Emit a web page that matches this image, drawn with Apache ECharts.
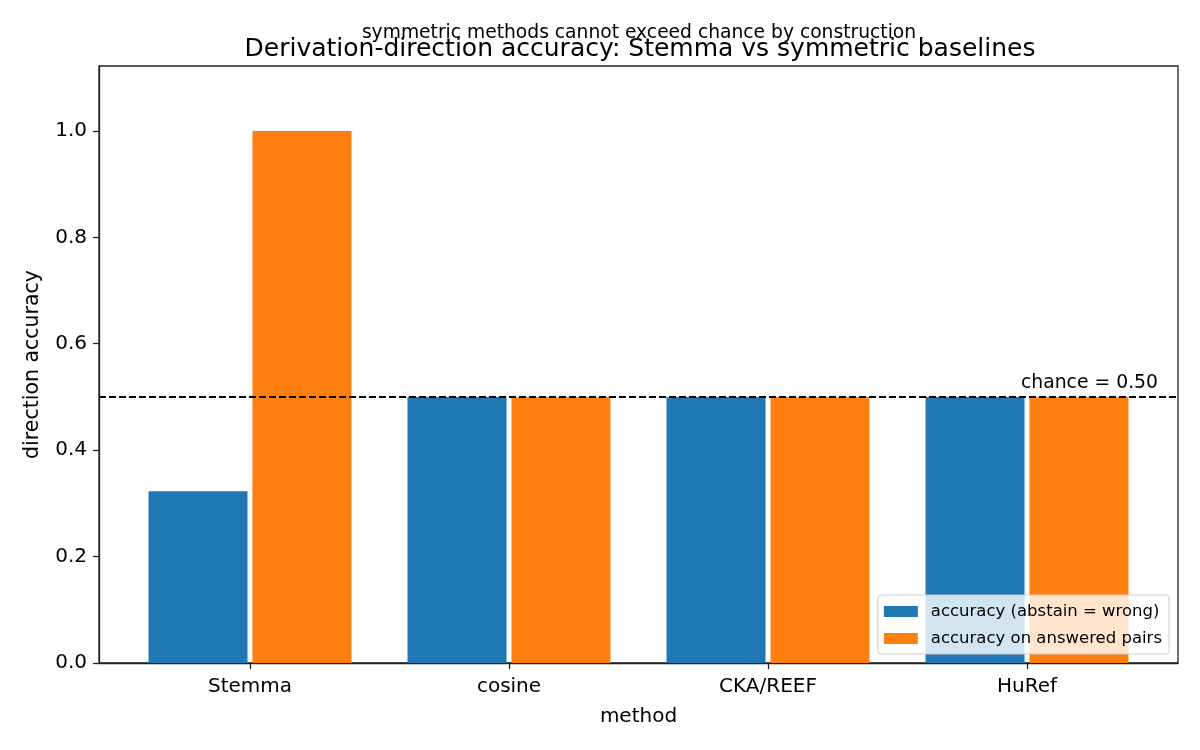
<!DOCTYPE html>
<html>
<head>
<meta charset="utf-8">
<title>Derivation-direction accuracy</title>
<script src="https://cdn.jsdelivr.net/npm/echarts@6.0.0/dist/echarts.min.js"></script>
<style>
  html, body { margin: 0; padding: 0; background: #fff; }
  #chart { width: 1200px; height: 750px; }
</style>
</head>
<body>
<div id="chart"></div>
<script>
// data
var methods = ['Stemma', 'cosine', 'CKA/REEF', 'HuRef'];
var accAbstainWrong = [0.323, 0.5, 0.5, 0.5];
var accAnswered = [1.0, 0.5, 0.5, 0.5];
var chance = 0.5;
var yTicks = [0, 0.2, 0.4, 0.6, 0.8, 1.0];
var xTicks = [0, 1, 2, 3];

var font = 'DejaVu Sans';
var chart = echarts.init(document.getElementById('chart'));

function pairs(vals) {
  return vals.map(function (v, i) { return [i, v]; });
}

// titles sit centred over the axes box (99..1178), not the page
chart.setOption({
  animation: false,
  textStyle: { fontFamily: font, color: '#000' },
  title: [
    { text: 'symmetric methods cannot exceed chance by construction', left: 634, textAlign: 'center', top: 19,
      textStyle: { fontFamily: font, fontSize: 18.7, fontWeight: 'normal', color: '#000' } },
    { text: 'Derivation-direction accuracy: Stemma vs symmetric baselines', left: 635, textAlign: 'center', top: 32,
      textStyle: { fontFamily: font, fontSize: 25, fontWeight: 'normal', color: '#000' } }
  ],
  legend: {
    orient: 'vertical', right: 31, bottom: 96,
    icon: 'rect', itemWidth: 34, itemHeight: 11, itemGap: 10,
    padding: [8, 7, 7, 6],
    backgroundColor: 'rgba(255,255,255,0.8)', borderColor: '#ccc', borderWidth: 1, borderRadius: 3,
    textStyle: { fontFamily: font, fontSize: 16.5, color: '#000', padding: [0, 0, 0, 8] },
    data: ['accuracy (abstain = wrong)', 'accuracy on answered pairs']
  },
  grid: { left: 99, right: 22, top: 66, bottom: 87, show: true, borderColor: '#222', borderWidth: 1.3, backgroundColor: 'transparent' },
  xAxis: {
    type: 'value', min: -0.583, max: 3.583,
    name: 'method', nameLocation: 'middle', nameGap: 44,
    nameTextStyle: { fontFamily: font, fontSize: 20, color: '#000' },
    axisLine: { show: true, onZero: false, lineStyle: { color: '#222', width: 1.3 } },
    axisTick: { show: true, length: 6, customValues: xTicks, lineStyle: { color: '#222', width: 1.3 } },
    axisLabel: { customValues: xTicks, margin: 14, fontFamily: font, fontSize: 20, color: '#000',
      formatter: function (v) { return methods[Math.round(v)] || ''; } },
    splitLine: { show: false }
  },
  yAxis: {
    type: 'value', min: 0, max: 1.122,
    name: 'direction accuracy', nameLocation: 'middle', nameGap: 56,
    nameTextStyle: { fontFamily: font, fontSize: 20.5, color: '#000' },
    axisLine: { show: true, onZero: false, lineStyle: { color: '#222', width: 1.3 } },
    axisTick: { show: true, length: 6, customValues: yTicks, lineStyle: { color: '#222', width: 1.3 } },
    axisLabel: { customValues: yTicks, margin: 12, fontFamily: font, fontSize: 20, color: '#000',
      formatter: function (v) { return v.toFixed(1); } },
    splitLine: { show: false }
  },
  series: [
    {
      name: 'accuracy (abstain = wrong)', type: 'bar',
      data: pairs(accAbstainWrong), barWidth: 99, barGap: '5%',
      itemStyle: { color: '#1f77b4' },
      markLine: {
        silent: true, symbol: 'none',
        lineStyle: { color: '#000', type: [7, 3], width: 1.8 },
        label: { show: true, position: 'insideEndTop', formatter: 'chance = 0.50',
          fontFamily: font, fontSize: 18.8, color: '#000', distance: [20, 4] },
        data: [{ yAxis: chance }]
      }
    },
    {
      name: 'accuracy on answered pairs', type: 'bar',
      data: pairs(accAnswered), barWidth: 99, barGap: '5%',
      itemStyle: { color: '#ff7f0e' }
    }
  ]
});
</script>
</body>
</html>
